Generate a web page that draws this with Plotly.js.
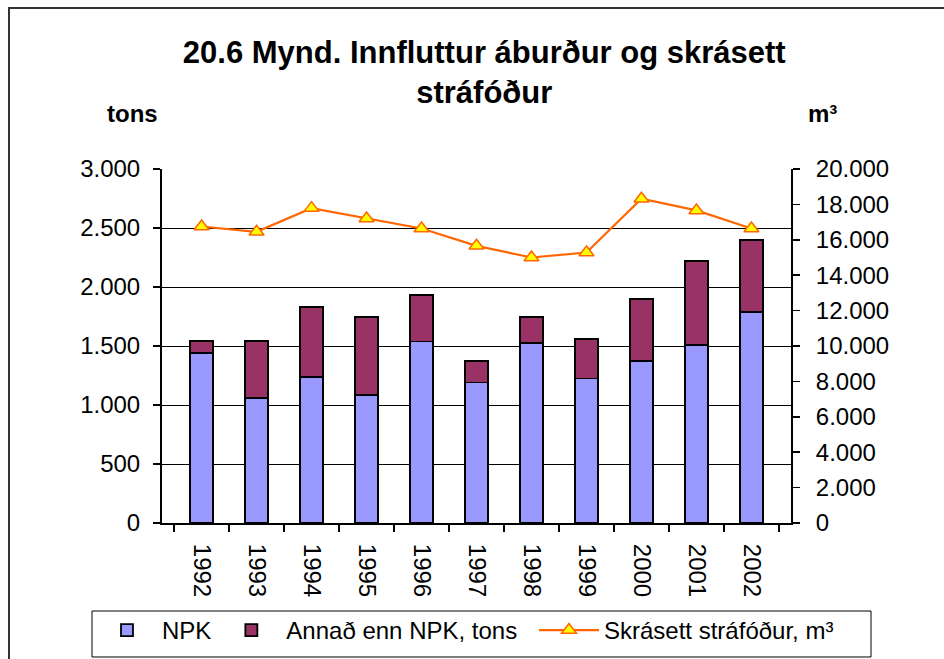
<!DOCTYPE html>
<html>
<head>
<meta charset="utf-8">
<script src="https://cdn.plot.ly/plotly-3.0.1.min.js"></script>
<style>
  html, body { margin: 0; padding: 0; background: #fff; }
  #wrap { position: relative; width: 944px; height: 659px; }
  #chart { width: 944px; height: 659px; }
  #frame { position: absolute; left: 8px; top: 7px; width: 950px; height: 700px;
           border-left: 2px solid #333; border-top: 2px solid #333; pointer-events: none; }
</style>
</head>
<body>
<div id="wrap">
  <div id="chart"></div>
  <div id="frame"></div>
</div>
<script>
const years = ['1992','1993','1994','1995','1996','1997','1998','1999','2000','2001','2002'];
const npk = [1443, 1057, 1239, 1088, 1539, 1190, 1528, 1224, 1375, 1511, 1791];
const annad = [99, 485, 592, 658, 391, 185, 218, 335, 521, 706, 610];
const strafodur = [16750, 16450, 17790, 17200, 16640, 15660, 15000, 15280, 18320, 17660, 16640];

const titleText = '20.6 Mynd. Innfluttur áburður og skrásett<br>stráfóður';
const leftUnit = 'tons';
const rightUnit = 'm³';
const names = ['NPK', 'Annað enn NPK, tons', 'Skrásett stráfóður, m³'];

const baseFont = 'Liberation Sans, Arial, sans-serif';

const traces = [
  { type: 'bar', x: years, y: npk, name: names[0], yaxis: 'y', legend: 'legend',
    marker: { color: '#9999FF', line: { color: '#000', width: 1.8 } } },
  { type: 'bar', x: years, y: annad, name: names[1], yaxis: 'y', legend: 'legend',
    marker: { color: '#993366', line: { color: '#000', width: 1.8 } } },
  { type: 'scatter', mode: 'lines+markers', x: years, y: strafodur, name: names[2], yaxis: 'y2', legend: 'legend2',
    line: { color: '#FF6600', width: 2.2 },
    marker: { symbol: 'triangle-up', size: 13, color: '#FFFF00', line: { color: '#FF6600', width: 1.5 } } }
];

const legendCommon = {
  orientation: 'h', xref: 'container', yref: 'container', y: 0.0774,
  xanchor: 'left', yanchor: 'top', borderwidth: 0, bgcolor: 'rgba(0,0,0,0)',
  traceorder: 'normal', itemwidth: 60, font: { size: 24 }
};

const layout = {
  width: 944, height: 659,
  margin: { l: 162, r: 153, t: 169, b: 136 },
  paper_bgcolor: '#fff', plot_bgcolor: '#fff',
  separators: ',.',
  font: { family: baseFont, size: 24, color: '#000' },
  barmode: 'stack',
  bargap: 0.58,
  showlegend: true,
  title: { text: titleText, font: { family: baseFont, size: 31, color: '#000', weight: 'bold' },
           x: 0.513, xanchor: 'center', y: 0.905, yanchor: 'middle' },
  xaxis: { type: 'category', tickangle: 90, ticks: 'outside', tickson: 'boundaries', ticklen: 7,
           tickcolor: '#000', tickwidth: 1.5, showline: true, linecolor: '#000', linewidth: 2, showgrid: false,
           ticklabelstandoff: 14, tickfont: { size: 24 }, automargin: false },
  yaxis: { range: [0, 3000], dtick: 500, tickformat: ',d', ticks: 'outside', ticklen: 7,
           tickcolor: '#000', tickwidth: 1.5, showline: true, linecolor: '#000', linewidth: 2,
           showgrid: true, gridcolor: '#000', gridwidth: 1, zeroline: false,
           ticklabelstandoff: 8, tickfont: { size: 24 }, automargin: false },
  yaxis2: { range: [0, 20000], dtick: 2000, tickformat: ',d', overlaying: 'y', side: 'right',
            ticks: 'outside', ticklen: 7, tickcolor: '#000', tickwidth: 1.5, showline: true, linecolor: '#000',
            linewidth: 2, showgrid: false, zeroline: false, ticklabelstandoff: 11, tickfont: { size: 24 },
            automargin: false },
  legend: Object.assign({}, legendCommon, { x: 92 / 944 }),
  legend2: Object.assign({}, legendCommon, { x: 534 / 944 }),
  shapes: [
    { type: 'rect', xref: 'paper', yref: 'paper', x0: -0.1113, x1: 1.1272, y0: -0.3785, y1: -0.2486,
      line: { color: '#000', width: 1 }, fillcolor: 'rgba(0,0,0,0)', layer: 'above' }
  ],
  annotations: [
    { text: leftUnit, xref: 'paper', yref: 'paper', x: -0.0469, y: 1.158, xanchor: 'center', yanchor: 'middle',
      showarrow: false, font: { family: baseFont, size: 24, weight: 'bold' } },
    { text: rightUnit, xref: 'paper', yref: 'paper', x: 1.0493, y: 1.158, xanchor: 'center', yanchor: 'middle',
      showarrow: false, font: { family: baseFont, size: 24, weight: 'bold' } }
  ]
};

Plotly.newPlot('chart', traces, layout, { displayModeBar: false, staticPlot: true });
</script>
</body>
</html>
